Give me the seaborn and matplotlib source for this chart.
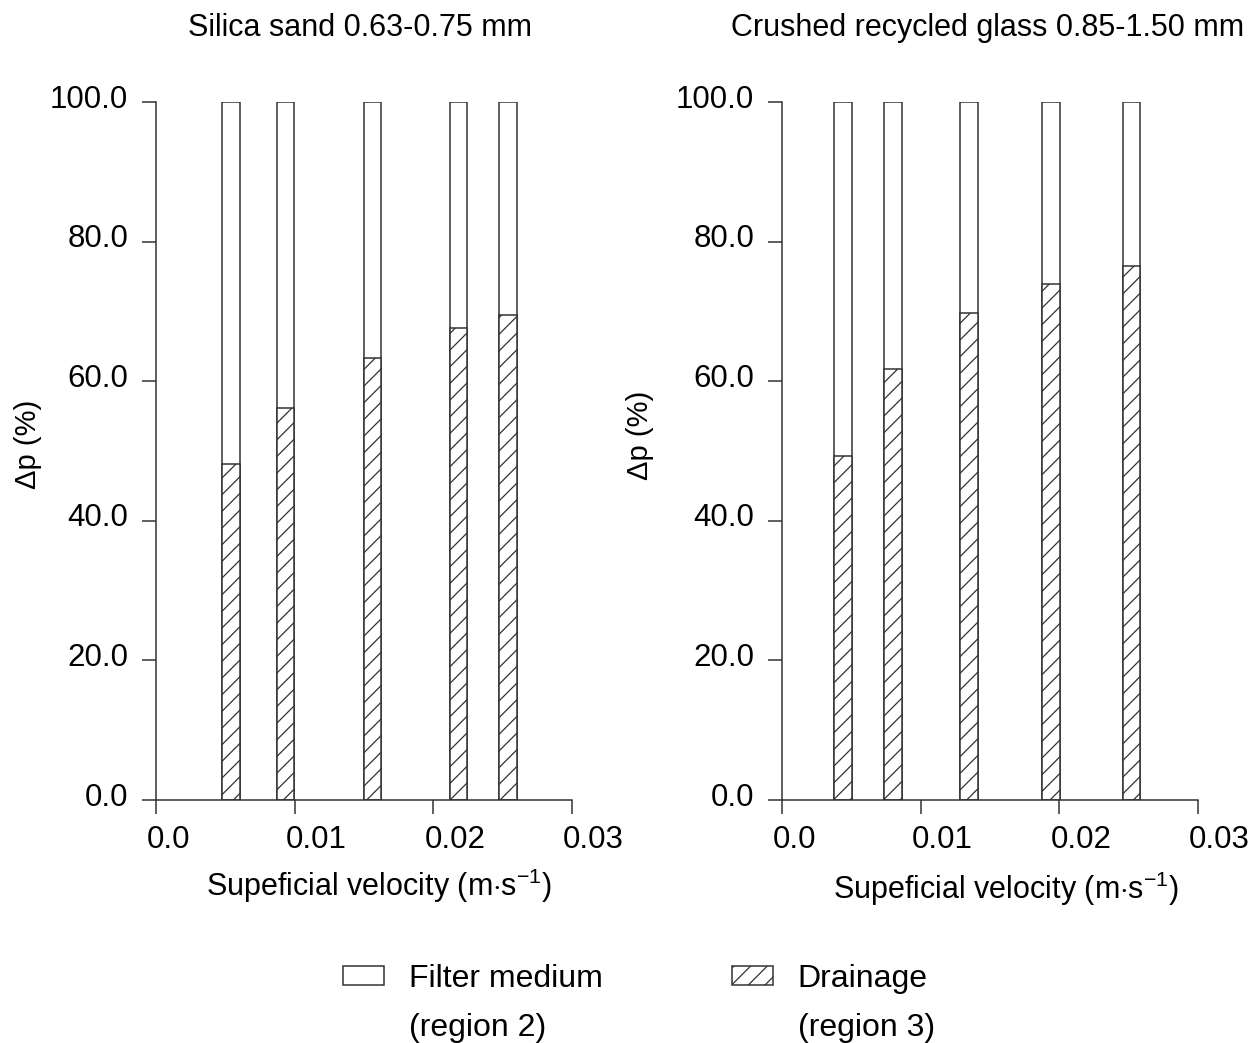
import matplotlib
matplotlib.use("Agg")
import matplotlib.pyplot as plt
import matplotlib.transforms as mtransforms
from matplotlib.patches import Patch
import numpy as np
import pandas as pd
import seaborn as sns

# ---------------- data ----------------
panel_titles = ["Silica sand 0.63-0.75 mm", "Crushed recycled glass 0.85-1.50 mm"]
left_velocity = [0.0054, 0.00935, 0.0156, 0.0218, 0.0254]
left_drainage = [48.1, 56.1, 63.3, 67.6, 69.5]
left_filter = [51.9, 43.9, 36.7, 32.4, 30.5]
right_velocity = [0.0044, 0.0080, 0.0135, 0.0194, 0.0252]
right_drainage = [49.3, 61.7, 69.7, 73.9, 76.5]
right_filter = [50.7, 38.3, 30.3, 26.1, 23.5]
x_ticks = [0.0, 0.01, 0.02, 0.03]
x_ticklabels = ["0.0", "0.01", "0.02", "0.03"]
y_ticks = [0, 20, 40, 60, 80, 100]
y_ticklabels = ["0.0", "20.0", "40.0", "60.0", "80.0", "100.0"]
legend_labels = ["Filter medium", "(region 2)", "Drainage", "(region 3)"]
x_label = "Supeficial velocity (m$\\cdot$s$^{\\mathregular{-1}}$)"
y_label = "\u0394p (%)"

# ---------------- style ----------------
sns.set_style("white")
plt.rcParams["font.family"] = ["Liberation Sans", "DejaVu Sans"]
plt.rcParams["mathtext.fontset"] = "custom"
plt.rcParams["mathtext.rm"] = "Liberation Sans"
plt.rcParams["mathtext.it"] = "Liberation Sans:italic"
plt.rcParams["mathtext.bf"] = "Liberation Sans:bold"
plt.rcParams["hatch.linewidth"] = 0.9
plt.rcParams["text.color"] = "black"
plt.rcParams["axes.labelcolor"] = "black"
plt.rcParams["xtick.color"] = "black"
plt.rcParams["ytick.color"] = "black"

EDGE = "#333333"
LW = 1.1
BAR_W = 0.00126
TICK_FS = 22.5
LABEL_FS = 22
TITLE_FS = 22

fig = plt.figure(figsize=(12.59, 10.43), dpi=100)
ax_l = fig.add_axes([156 / 1259, 1 - 800 / 1043, 416 / 1259, 698 / 1043])
ax_r = fig.add_axes([782 / 1259, 1 - 800 / 1043, 416 / 1259, 698 / 1043])

panels = [
    (ax_l, left_velocity, left_drainage, left_filter, panel_titles[0], 0.49, (0.536, -0.123), (-0.308, 0.509)),
    (ax_r, right_velocity, right_drainage, right_filter, panel_titles[1], 0.493, (0.538, -0.127), (-0.341, 0.523)),
]

for ax, vel, drain, filt, title, tx, xl_pos, yl_pos in panels:
    df = pd.DataFrame({
        "velocity": vel,
        "drainage": drain,
        "total": np.array(drain) + np.array(filt),
    })
    native = np.min(np.diff(np.sort(df["velocity"].to_numpy())))
    w = BAR_W / native
    # filter medium (region 2) stacked above drainage -> full bar outline
    sns.barplot(data=df, x="velocity", y="total", native_scale=True, orient="x",
                errorbar=None, width=w, color="white", edgecolor=EDGE,
                linewidth=LW, saturation=1, ax=ax)
    # drainage (region 3), hatched
    sns.barplot(data=df, x="velocity", y="drainage", native_scale=True, orient="x",
                errorbar=None, width=w, color="white", edgecolor=EDGE,
                linewidth=LW, saturation=1, hatch="//", ax=ax)

    ax.set_xlim(0, 0.03)
    ax.set_ylim(0, 100)
    ax.set_xticks(x_ticks)
    ax.set_xticklabels(x_ticklabels, fontsize=TICK_FS)
    ax.set_yticks(y_ticks)
    ax.set_yticklabels(y_ticklabels, fontsize=TICK_FS)
    ax.tick_params(axis="both", direction="out", length=10, width=LW, color=EDGE,
                   labelcolor="black", bottom=True, left=True)
    ax.tick_params(axis="x", pad=8)
    ax.tick_params(axis="y", pad=10)
    for s in ["top", "right"]:
        ax.spines[s].set_visible(False)
    for s in ["left", "bottom"]:
        ax.spines[s].set_color(EDGE)
        ax.spines[s].set_linewidth(LW)
    ax.set_facecolor("white")

    # x tick labels are left-aligned slightly left of the tick
    offx = mtransforms.ScaledTranslation(-9 / 100, 0, fig.dpi_scale_trans)
    for lab in ax.get_xticklabels():
        lab.set_horizontalalignment("left")
        lab.set_transform(lab.get_transform() + offx)
    offy = mtransforms.ScaledTranslation(0, 6 / 100, fig.dpi_scale_trans)
    for lab in ax.get_yticklabels():
        lab.set_transform(lab.get_transform() + offy)

    ax.set_xlabel(x_label, fontsize=LABEL_FS, va="center", ha="center")
    ax.xaxis.set_label_coords(*xl_pos)
    ax.set_ylabel(y_label, fontsize=LABEL_FS - 1, va="center", ha="center")
    ax.yaxis.set_label_coords(*yl_pos)
    ax.text(tx, 1.106, title, transform=ax.transAxes, ha="center", va="center",
            fontsize=TITLE_FS)

handles = [
    Patch(facecolor="white", edgecolor=EDGE, linewidth=LW),
    Patch(facecolor="none", edgecolor="none"),
    Patch(facecolor="white", edgecolor=EDGE, linewidth=LW, hatch="//"),
    Patch(facecolor="none", edgecolor="none"),
]
fig.legend(handles, legend_labels, ncol=2, loc="upper left",
           bbox_to_anchor=(343 / 1259, 1 - 964 / 1043), bbox_transform=fig.transFigure,
           frameon=False, fontsize=23, borderpad=0, borderaxespad=0,
           handlelength=1.28, handleheight=0.53, handletextpad=0.78,
           columnspacing=4.05, labelspacing=0.6)

fig.savefig("out.png", dpi=100, facecolor="white")
